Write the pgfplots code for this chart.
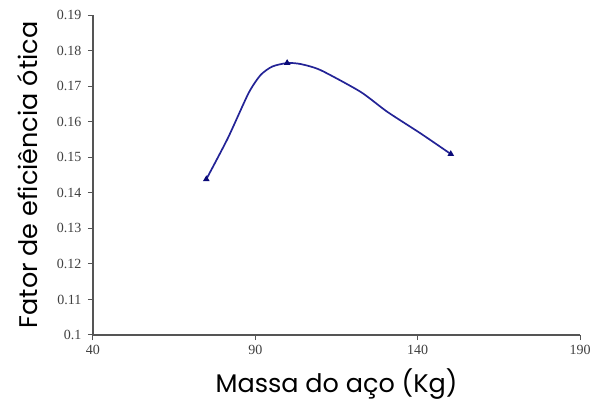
\documentclass[border=0pt]{standalone}
\usepackage{fontspec}
\setmainfont{Liberation Serif}
\newfontfamily\gothic{Poppins}
\usepackage{pgfplots}
\pgfplotsset{compat=1.18}
\definecolor{linecol}{RGB}{35,35,150}
\definecolor{markcol}{RGB}{10,10,120}
\definecolor{axcol}{RGB}{85,85,85}
\begin{document}
\begin{tikzpicture}
\begin{axis}[
  scale only axis,
  width=487pt, height=320pt,
  xmin=40, xmax=190, ymin=0.1, ymax=0.19,
  xtick={40,90,140,190},
  ytick={0.1,0.11,0.12,0.13,0.14,0.15,0.16,0.17,0.18,0.19},
  axis x line*=bottom, axis y line*=left,
  axis line style={axcol, line width=1.3pt, -},
  tick style={axcol, line width=1pt},
  tick align=outside, major tick length=5pt,
  /pgf/number format/assume math mode=true,
  yticklabel style={/pgf/number format/fixed, /pgf/number format/precision=2, font=\fontsize{14}{14}\selectfont, text=black!75, xshift=-3pt},
  xticklabel style={font=\fontsize{14}{14}\selectfont, text=black!75, yshift=-2pt},
  scaled y ticks=false,
  xlabel={Massa do aço (Kg)},
  ylabel={Fator de eficiência ótica},
  xlabel style={font=\gothic\fontsize{25.5}{25.5}\selectfont, at={(axis description cs:0.5,0)}, yshift=-30pt},
  ylabel style={font=\gothic\fontsize{25.5}{25.5}\selectfont, yshift=12pt},
  clip=false,
]
\addplot[linecol, line width=1.7pt, smooth, tension=0.4,
  mark=triangle*, mark options={markcol, fill=markcol, scale=1.1, solid},
  mark indices={1,6,12}] coordinates {
  (74.9,0.1438) (81.5,0.1553) (87.9,0.1680) (91.6,0.1731) (95.2,0.1755)
  (99.8,0.1765) (104.0,0.1762) (110.1,0.1745) (122.4,0.1684)
  (130.6,0.1628) (140.9,0.1567) (150.2,0.1509)
};
\end{axis}
\path (current axis.south west) ++(-93pt,-72pt) rectangle ++(595pt,407pt);
\end{tikzpicture}
\end{document}
